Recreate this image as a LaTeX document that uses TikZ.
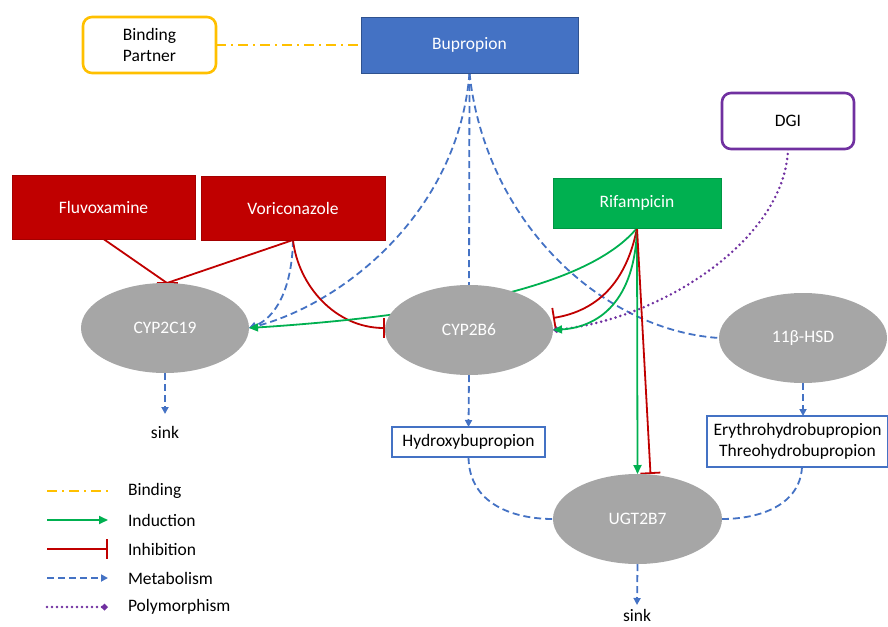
\documentclass[tikz,border=0pt]{standalone}
\usepackage{fontspec}
\setmainfont{Carlito}
\usetikzlibrary{arrows.meta,shapes.geometric,backgrounds}
\definecolor{bupfill}{HTML}{4472C4}
\definecolor{bupline}{HTML}{2F528F}
\definecolor{inhline}{HTML}{C00000}
\definecolor{indline}{HTML}{00B050}
\definecolor{bindline}{HTML}{FFC000}
\definecolor{polyline}{HTML}{7030A0}
\definecolor{metabline}{HTML}{4472C4}
\definecolor{enzfill}{HTML}{A6A6A6}
\tikzset{
  every node/.style={font=\fontsize{17.5}{21}\selectfont, text=black, outer sep=0pt},
  drug/.style={rectangle, fill=#1, draw=#1!85!black, line width=0.6pt,
    text=white, minimum width=184pt, minimum height=64pt},
  partner/.style={rectangle, rounded corners=9pt, draw=#1, line width=2.6pt,
    fill=white, align=center, minimum width=133pt, minimum height=56pt},
  enzyme/.style={ellipse, fill=enzfill, text=white, minimum width=168pt,
    minimum height=90pt, inner sep=0pt},
  product/.style={rectangle, draw=metabline, line width=1.8pt, fill=white,
    align=center, inner sep=3pt},
  plain/.style={inner sep=2pt},
  sinklabel/.style={inner xsep=2pt, inner ysep=#1, anchor=north},
  binding/.style={draw=bindline, line width=1.8pt,
    dash pattern=on 10pt off 5pt on 2pt off 5pt},
  induction/.style={-{Triangle[length=9pt,width=8pt]}, draw=indline, line width=1.8pt},
  inhibition/.style={-{Bar[width=20pt,line width=1.8pt]}, draw=inhline, line width=1.8pt},
  inhline/.style={draw=inhline, line width=1.8pt},
  metabolism/.style={-{Triangle[length=7pt,width=7pt]}, draw=metabline,
    line width=1.8pt, dash pattern=on 7pt off 4pt},
  metabplain/.style={draw=metabline, line width=1.8pt, dash pattern=on 7pt off 4pt},
  polymorphism/.style={-{Diamond[length=7pt,width=7pt]}, draw=polyline,
    line width=2.8pt, line cap=round, dash pattern=on 0pt off 5pt},
}

\begin{document}
\begin{tikzpicture}[x=1pt,y=-1pt]
\useasboundingbox (0,0) rectangle (888,626);

% ---- Drugs and partners ----------------------------------------------------
\node[drug=bupfill, draw=bupline, minimum width=217pt, minimum height=56pt] (bup) at (469.5,45) {Bupropion};
\node[partner=bindline] (bp) at (149.5,45) {Binding\\Partner};
\node[partner=polyline, minimum width=132pt] (dgi) at (788,121) {DGI};
\node[drug=inhline, minimum width=183pt] (fluv) at (103.5,207) {Fluvoxamine};
\node[drug=inhline] (vori) at (293,208) {Voriconazole};
\node[drug=indline, minimum width=168pt, minimum height=50pt] (rif) at (637,203) {Rifampicin};

% ---- Enzymes ---------------------------------------------------------------
\node[enzyme] (c19) at (165,328) {CYP2C19};
\node[enzyme] (c2b6) at (469,330) {CYP2B6};
\node[enzyme] (hsd) at (803,338) {11β-HSD};
\node[enzyme, minimum width=169pt] (ugt) at (637.5,519) {UGT2B7};

% ---- Metabolites and sinks -------------------------------------------------
\node[product, minimum width=153pt, minimum height=30pt] (hyd) at (468.5,442) {Hydroxybupropion};
\node[product, minimum width=181pt, minimum height=51pt] (ery) at (797.5,441.5)
  {Erythrohydrobupropion\\Threohydrobupropion};
\node[sinklabel=12pt] (sink1) at (165,414) {sink};
\node[sinklabel=2pt] (sink2) at (637,607.5) {sink};

% ---- Connectors ------------------------------------------------------------
\begin{scope}[on background layer]
  \draw[binding] (bp.east) -- (bup.west);
  \draw[metabplain] (bup.south) -- (c2b6.north);
  \draw[metabolism] (bup.south) .. controls (458,215) and (340,305) .. (c19.east);
  \draw[metabplain] (bup.south) .. controls (485,220) and (600,330) .. (hsd.west);
  \draw[metabolism] (vori.south) .. controls (292,290) and (275,318) .. (c19.east);
  \draw[inhibition] (vori.south) .. controls (298,285) and (335,328) .. ([yshift=2pt]c2b6.west);
  \draw[inhline] (fluv.south) -- ([xshift=2pt]c19.north);
  \draw[inhline] (vori.south) -- ([xshift=2pt]c19.north);
  \draw[inhline] ([xshift=-8.5pt]c19.north) -- ([xshift=12.5pt]c19.north);
  \draw[induction] (rif.south) .. controls (590,285) and (450,315) .. (c19.east);
  \draw[polymorphism] (dgi.south) .. controls (785,240) and (660,320) .. (c2b6.east);
  \draw[inhibition] (rif.south) .. controls (625,290) and (590,312) .. ([yshift=12pt]c2b6.east);
  \draw[induction] (rif.south) .. controls (635,300) and (600,327) .. (c2b6.east);
  \draw[induction] (rif.south) -- (ugt.north);
  \draw[inhibition] (rif.south) -- ([xshift=13pt]ugt.north);
  \draw[metabolism] (c19.south) -- (sink1.north);
  \draw[metabolism] (c2b6.south) -- (hyd.north);
  \draw[metabolism] (hsd.south) -- ([xshift=5.5pt]ery.north);
  \draw[metabplain] (hyd.south) .. controls (469,505) and (515,519) .. (ugt.west);
  \draw[metabplain] ([xshift=4.5pt]ery.south) .. controls (800,505) and (760,519) .. (ugt.east);
  \draw[metabolism] (ugt.south) -- ([yshift=2.5pt]sink2.north);
\end{scope}

% ---- Legend ----------------------------------------------------------------
\node[plain, anchor=west] (lbind) at (126,491) {Binding};
\node[plain, anchor=west] (lind) at (126,520) {Induction};
\node[plain, anchor=west] (linh) at (126,549) {Inhibition};
\node[plain, anchor=west] (lmet) at (126,578) {Metabolism};
\node[plain, anchor=west] (lpol) at (126,607) {Polymorphism};
\draw[binding] ([xshift=-79pt]lbind.west) -- ([xshift=-18pt]lbind.west);
\draw[induction] ([xshift=-79pt]lind.west) -- ([xshift=-18pt]lind.west);
\draw[inhibition] ([xshift=-79pt]linh.west) -- ([xshift=-18pt]linh.west);
\draw[metabolism] ([xshift=-79pt]lmet.west) -- ([xshift=-18pt]lmet.west);
\draw[polymorphism] ([xshift=-79pt]lpol.west) -- ([xshift=-18pt]lpol.west);

\end{tikzpicture}
\end{document}
